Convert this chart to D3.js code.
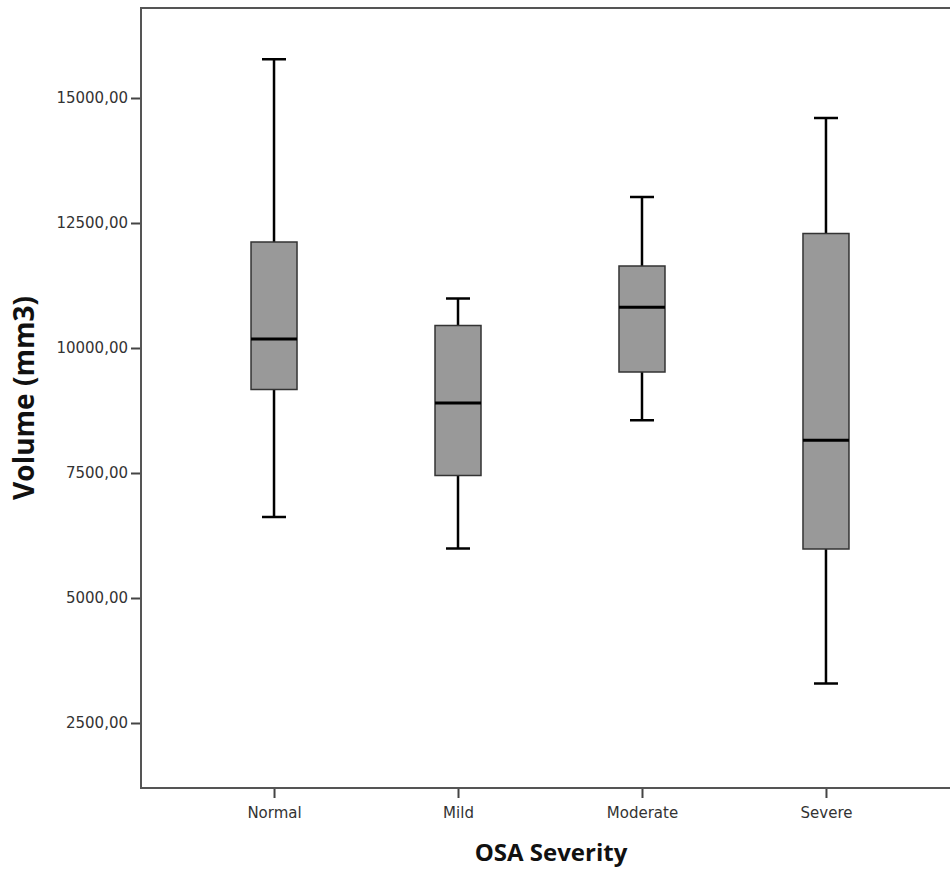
<!DOCTYPE html>
<html>
<head>
<meta charset="utf-8">
<script src="https://cdn.jsdelivr.net/npm/d3@7"></script>
<style>
  body { margin: 0; background: #fff; }
</style>
</head>
<body>
<script>
// box plot data
let categories = ['Normal', 'Mild', 'Moderate', 'Severe'];
let whiskerLow  = [6620, 5990, 8555, 3290];
let q1Values    = [9170, 7450, 9520, 5980];
let medians     = [10180, 8900, 10815, 8155];
let q3Values    = [12120, 10450, 11640, 12290];
let whiskerHigh = [15775, 10990, 13020, 14600];
let yTicks = [2500, 5000, 7500, 10000, 12500, 15000];

let width = 950, height = 869;
let plotLeft = 141, plotTop = 8, plotBottom = 788, plotRight = 959;
let boxWidth = 46, capWidth = 24;

let boxes = categories.map((c, i) => ({
    name: c,
    low: whiskerLow[i],
    q1: q1Values[i],
    median: medians[i],
    q3: q3Values[i],
    high: whiskerHigh[i]
}));

let svg = d3.select('body').append('svg').attr('width', width).attr('height', height);

let x = d3.scalePoint().domain(categories).range([plotLeft, plotRight]).padding(0.723);
let y = d3.scaleLinear().domain([1200, 16800]).range([plotBottom, plotTop]);

//---------------------------------------------------------------------------------------------------//
// axes
let yAxis = d3.axisLeft(y).tickValues(yTicks).tickSize(10).tickPadding(3)
    .tickFormat(d => d3.format('.2f')(d).replace('.', ','));
let yAxisGroup = svg.append('g').attr('transform', `translate(${plotLeft},0)`).call(yAxis);

let xAxis = d3.axisBottom(x).tickSize(10).tickPadding(9);
let xAxisGroup = svg.append('g').attr('transform', `translate(0,${plotBottom})`).call(xAxis);

[yAxisGroup, xAxisGroup].forEach(g => {
    g.select('.domain').remove();
    g.selectAll('.tick line').attr('stroke', '#444').attr('stroke-width', 2);
    g.selectAll('.tick text')
        .attr('fill', '#333')
        .attr('font-family', 'DejaVu Sans, sans-serif')
        .attr('font-size', '15px');
});

// frame: left, top and bottom (right edge falls outside the picture)
svg.append('path')
    .attr('d', `M${plotRight},${plotTop}H${plotLeft}V${plotBottom}H${plotRight}`)
    .attr('fill', 'none')
    .attr('stroke', '#555')
    .attr('stroke-width', 2);

//---------------------------------------------------------------------------------------------------//
// boxes
let groups = svg.selectAll('.box').data(boxes).enter().append('g').attr('class', 'box');

groups.append('line')
    .attr('x1', d => x(d.name)).attr('x2', d => x(d.name))
    .attr('y1', d => y(d.high)).attr('y2', d => y(d.low))
    .attr('stroke', '#000').attr('stroke-width', 2.5);

groups.selectAll('.cap').data(d => [d.low, d.high].map(v => ({ name: d.name, v: v })))
    .enter().append('line').attr('class', 'cap')
    .attr('x1', d => x(d.name) - capWidth / 2).attr('x2', d => x(d.name) + capWidth / 2)
    .attr('y1', d => y(d.v)).attr('y2', d => y(d.v))
    .attr('stroke', '#000').attr('stroke-width', 2.5);

groups.append('rect')
    .attr('x', d => x(d.name) - boxWidth / 2)
    .attr('y', d => y(d.q3))
    .attr('width', boxWidth)
    .attr('height', d => y(d.q1) - y(d.q3))
    .attr('fill', '#999')
    .attr('stroke', '#333')
    .attr('stroke-width', 1.5);

groups.append('line')
    .attr('x1', d => x(d.name) - boxWidth / 2).attr('x2', d => x(d.name) + boxWidth / 2)
    .attr('y1', d => y(d.median)).attr('y2', d => y(d.median))
    .attr('stroke', '#000').attr('stroke-width', 3);

//---------------------------------------------------------------------------------------------------//
// axis titles
svg.append('text')
    .attr('x', 551).attr('y', 861)
    .attr('text-anchor', 'middle')
    .attr('font-family', 'Open Sans, sans-serif')
    .attr('font-weight', 'bold')
    .attr('font-size', '24px')
    .attr('fill', '#111')
    .text('OSA Severity');

svg.append('text')
    .attr('transform', 'translate(34,398) rotate(-90)')
    .attr('text-anchor', 'middle')
    .attr('font-family', 'Open Sans, sans-serif')
    .attr('font-weight', 'bold')
    .attr('font-size', '28px')
    .attr('fill', '#111')
    .text('Volume (mm3)');
</script>
</body>
</html>
